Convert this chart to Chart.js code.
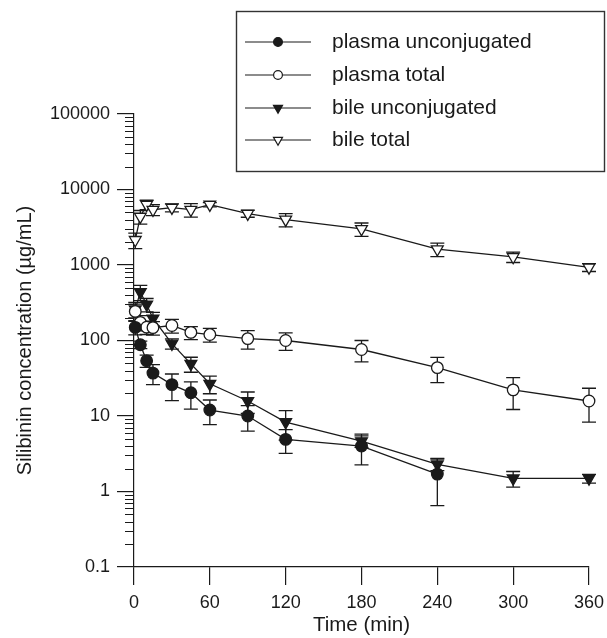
<!DOCTYPE html>
<html><head><meta charset="utf-8">
<script src="https://cdn.jsdelivr.net/npm/chart.js@4.4.0/dist/chart.umd.min.js"></script>
<style>html,body{margin:0;padding:0;background:#fff}canvas{display:block}</style>
</head><body>
<canvas id="c" width="607" height="638"></canvas>
<script>
const timesMin = [1, 5, 10, 15, 30, 45, 60, 90, 120, 180, 240, 300, 360];
const plasmaUnconjMean = [149, 88, 54, 37, 26, 20.3, 12, 10, 4.9, 4.0, 1.7];
const plasmaUnconjSD   = [30, 10, 10, 11, 10, 8, 4.3, 3.7, 1.7, 1.75, 1.05];
const plasmaTotalMean  = [243, 174, 150, 148, 158, 128, 120, 106, 100, 76, 43.7, 22.2, 15.8];
const plasmaTotalSD    = [60, 40, 30, 30, 33, 25, 25, 29, 26, 24, 16, 10, 7.5];
const bileUnconjMean   = [259, 437, 300, 196, 91, 49, 26.7, 15.8, 8.3, 4.64, 2.29, 1.49, 1.49];
const bileUnconjSD     = [60, 100, 60, 40, 14, 11, 7, 5, 3.5, 0.8, 0.4, 0.35, 0.2];
const bileTotalMean    = [2150, 4370, 6300, 5400, 5750, 5400, 6300, 4790, 4000, 3000, 1620, 1280, 930];
const bileTotalSD      = [500, 900, 900, 900, 700, 1100, 400, 500, 800, 600, 330, 200, 110];
const seriesNames = ['plasma unconjugated', 'plasma total', 'bile unconjugated', 'bile total'];
const xTickValues = [0, 60, 120, 180, 240, 300, 360];
const yTickValues = [0.1, 1, 10, 100, 1000, 10000, 100000];
const xTitle = 'Time (min)';
const yTitle = 'Silibinin concentration (\u00B5g/mL)';

const FONT = '"Liberation Sans", Arial, sans-serif';
const INK = '#1a1a1a';

function pts(means) { return means.map((v, i) => ({x: timesMin[i], y: v})); }

function mkDs(label, means, sds, style, fill) {
  const tri = style === 'triangle';
  return {
    label, data: pts(means), errorSD: sds,
    borderColor: INK, borderWidth: 1.3,
    pointStyle: style, pointRotation: tri ? 180 : 0,
    pointRadius: tri ? 6.8 : 5.8,
    pointBackgroundColor: fill, pointBorderColor: INK, pointBorderWidth: 1.3,
    pointHoverRadius: tri ? 6.8 : 5.8,
    tension: 0, clip: false, fill: false
  };
}

const datasets = [
  mkDs(seriesNames[0], plasmaUnconjMean, plasmaUnconjSD, 'circle', INK),
  mkDs(seriesNames[1], plasmaTotalMean, plasmaTotalSD, 'circle', '#fff'),
  mkDs(seriesNames[2], bileUnconjMean, bileUnconjSD, 'triangle', INK),
  mkDs(seriesNames[3], bileTotalMean, bileTotalSD, 'triangle', '#fff')
];

const bgPlugin = {
  id: 'bg',
  beforeDraw(chart) {
    const c = chart.ctx; c.save(); c.fillStyle = '#fff';
    c.fillRect(0, 0, chart.width, chart.height); c.restore();
  }
};

const errPlugin = {
  id: 'errbars',
  beforeDatasetsDraw(chart) {
    const c = chart.ctx, xs = chart.scales.x, ys = chart.scales.y;
    c.save(); c.strokeStyle = INK; c.lineWidth = 1.3;
    chart.data.datasets.forEach(ds => {
      ds.data.forEach((p, i) => {
        const sd = ds.errorSD[i];
        const x = xs.getPixelForValue(p.x);
        const yt = ys.getPixelForValue(p.y + sd);
        const yb = ys.getPixelForValue(Math.max(p.y - sd, 0.1));
        c.beginPath();
        c.moveTo(x, yt); c.lineTo(x, yb);
        c.moveTo(x - 7, yt); c.lineTo(x + 7, yt);
        c.moveTo(x - 7, yb); c.lineTo(x + 7, yb);
        c.stroke();
      });
    });
    c.restore();
  }
};

const minorPlugin = {
  id: 'minor',
  afterDraw(chart) {
    const c = chart.ctx, ys = chart.scales.y, left = chart.chartArea.left;
    c.save(); c.strokeStyle = INK; c.lineWidth = 1;
    for (let d = -1; d < 5; d++) {
      for (let k = 2; k <= 9; k++) {
        const y = Math.round(ys.getPixelForValue(k * Math.pow(10, d))) + 0.5;
        c.beginPath(); c.moveTo(left - 9, y); c.lineTo(left, y); c.stroke();
      }
    }
    c.restore();
  }
};

function drawMarker(c, style, fill, x, y, r) {
  c.save(); c.fillStyle = fill; c.strokeStyle = INK; c.lineWidth = 1.2;
  c.beginPath();
  if (style === 'circle') {
    c.arc(x, y, r, 0, Math.PI * 2);
  } else {
    for (let j = 0; j < 3; j++) {
      const a = Math.PI + j * 2 * Math.PI / 3;
      const px = x + Math.sin(a) * r, py = y - Math.cos(a) * r;
      if (j === 0) c.moveTo(px, py); else c.lineTo(px, py);
    }
    c.closePath();
  }
  c.fill(); c.stroke(); c.restore();
}

const legendPlugin = {
  id: 'customLegend',
  afterDraw(chart) {
    const c = chart.ctx;
    c.save();
    c.strokeStyle = '#333'; c.lineWidth = 1.4;
    c.strokeRect(236.5, 11.5, 368, 160);
    const rows = [42, 75, 108, 140];
    chart.data.datasets.forEach((ds, i) => {
      const y = rows[i];
      c.strokeStyle = INK; c.lineWidth = 1.2;
      c.beginPath(); c.moveTo(245, y); c.lineTo(311, y); c.stroke();
      const tri = ds.pointStyle === 'triangle';
      drawMarker(c, ds.pointStyle, ds.pointBackgroundColor, 278, y, tri ? 5.2 : 4.4);
      c.fillStyle = INK; c.font = '21px ' + FONT;
      c.textBaseline = 'middle'; c.textAlign = 'left';
      c.fillText(ds.label, 332, y);
    });
    c.restore();
  }
};

new Chart(document.getElementById('c'), {
  type: 'line',
  data: { datasets },
  plugins: [bgPlugin, errPlugin, minorPlugin, legendPlugin],
  options: {
    responsive: false, animation: false, devicePixelRatio: 1,
    layout: { padding: { top: 114, right: 18, left: 0, bottom: 0 } },
    plugins: { legend: { display: false }, tooltip: { enabled: false } },
    scales: {
      x: {
        type: 'linear', min: 0, max: 360,
        afterBuildTicks: s => { s.ticks = xTickValues.map(v => ({value: v})); },
        afterFit: s => { s.height = 71; s.paddingRight = 0; s.paddingLeft = 0; },
        ticks: { color: INK, font: { family: FONT, size: 18 }, padding: 7, maxRotation: 0,
                 callback: v => String(v) },
        grid: { display: true, drawOnChartArea: false, drawTicks: true, tickLength: 18,
                color: INK, lineWidth: 1.2 },
        border: { display: true, color: INK, width: 1.2 },
        title: { display: true, text: xTitle, color: INK,
                 font: { family: FONT, size: 20.5 }, padding: { top: 0, bottom: 0 } }
      },
      y: {
        type: 'logarithmic', min: 0.1, max: 100000,
        afterBuildTicks: s => { s.ticks = yTickValues.map(v => ({value: v, major: true})); },
        afterFit: s => { s.width = 134; },
        ticks: { color: INK, font: { family: FONT, size: 18 }, padding: 7,
                 callback: v => String(v), autoSkip: false },
        grid: { display: true, drawOnChartArea: false, drawTicks: true, tickLength: 17,
                color: INK, lineWidth: 1.2 },
        border: { display: true, color: INK, width: 1.2 },
        title: { display: true, text: yTitle, color: INK,
                 font: { family: FONT, size: 20 }, padding: { top: 13, bottom: 0 } }
      }
    }
  }
});
</script>
</body></html>
